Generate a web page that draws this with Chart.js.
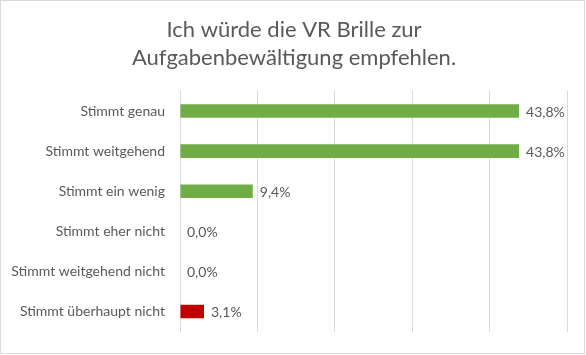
<!DOCTYPE html>
<html>
<head>
<meta charset="utf-8">
<script src="https://cdn.jsdelivr.net/npm/chart.js@4/dist/chart.umd.min.js"></script>
<style>
  html, body { margin: 0; padding: 0; background: #fff; }
  #wrap { position: relative; width: 585px; height: 354px; border: 1px solid #d9d9d9; box-sizing: border-box; overflow: hidden; }
  #wrap canvas { position: absolute; left: -1px; top: -1px; }
</style>
</head>
<body>
<div id="wrap"><canvas id="c" width="586" height="355"></canvas></div>
<script>
const titleLines = ["Ich würde die VR Brille zur", "Aufgabenbewältigung empfehlen."];
const categories = ["Stimmt genau", "Stimmt weitgehend", "Stimmt ein wenig", "Stimmt eher nicht", "Stimmt weitgehend nicht", "Stimmt überhaupt nicht"];
const percentages = [43.8, 43.8, 9.4, 0.0, 0.0, 3.1];
const barColors = ["#70ad47", "#70ad47", "#70ad47", "#70ad47", "#70ad47", "#c00000"];

const FONT = "Lato, 'Open Sans', sans-serif";
const TXT = "#595959";

const chartTitle = {
  id: "chartTitle",
  afterDraw(chart) {
    const ctx = chart.ctx;
    ctx.save();
    ctx.font = "22px " + FONT;
    ctx.fillStyle = TXT;
    ctx.textAlign = "center";
    ctx.textBaseline = "alphabetic";
    const cx = chart.width / 2 + 1;
    titleLines.forEach((line, i) => ctx.fillText(line, cx, 37 + i * 28));
    ctx.restore();
  }
};

const valueLabels = {
  id: "valueLabels",
  afterDatasetsDraw(chart) {
    const ctx = chart.ctx;
    const meta = chart.getDatasetMeta(0);
    ctx.save();
    ctx.font = "14px " + FONT;
    ctx.fillStyle = TXT;
    ctx.textAlign = "left";
    ctx.textBaseline = "middle";
    meta.data.forEach((bar, i) => {
      const v = percentages[i];
      const txt = v.toFixed(1).replace(".", ",") + "%";
      ctx.fillText(txt, bar.x + 7, bar.y + 1);
    });
    ctx.restore();
  }
};

new Chart(document.getElementById("c"), {
  type: "bar",
  data: {
    labels: categories,
    datasets: [{
      data: percentages,
      backgroundColor: barColors,
      borderWidth: 0,
      barPercentage: 0.34,
      categoryPercentage: 1.0
    }]
  },
  options: {
    indexAxis: "y",
    responsive: false,
    animation: false,
    devicePixelRatio: 1,
    layout: { padding: { left: 0, right: 19, top: 91, bottom: 19 } },
    plugins: {
      legend: { display: false },
      tooltip: { enabled: false },
      title: { display: false }
    },
    scales: {
      x: {
        min: 0, max: 50,
        ticks: { display: false, stepSize: 10 },
        grid: { color: "#d9d9d9", lineWidth: 1, drawTicks: false },
        border: { display: false }
      },
      y: {
        ticks: { color: TXT, font: { family: FONT, size: 14 }, padding: 15 },
        grid: { display: false, drawTicks: false },
        border: { display: false },
        afterFit(scale) { scale.width = 180; }
      }
    }
  },
  plugins: [valueLabels, chartTitle]
});
</script>
</body>
</html>
